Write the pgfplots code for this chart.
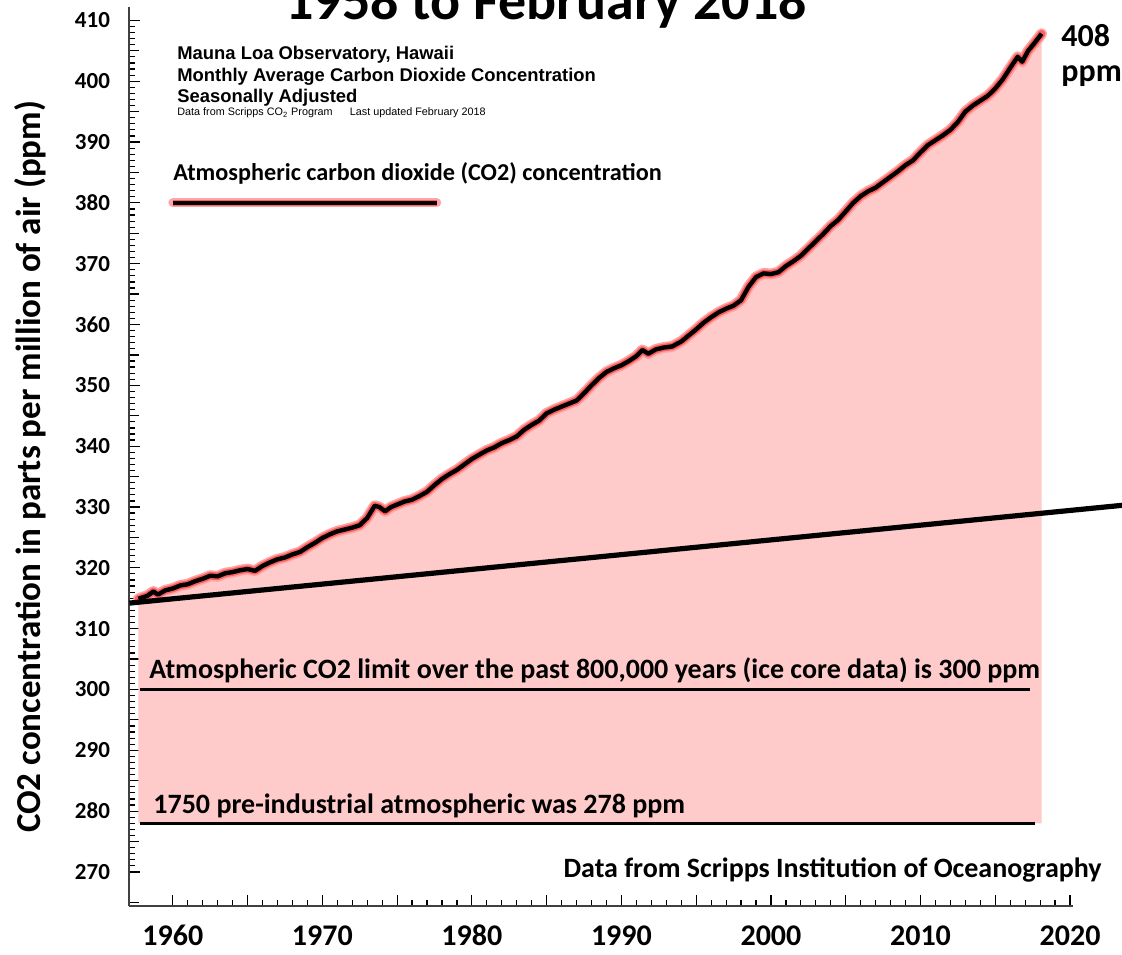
\documentclass[border=0pt]{standalone}
\usepackage{pgfplots}
\pgfplotsset{compat=1.18}
\usepackage{pgfplotstable}
\usepgfplotslibrary{fillbetween}
\usepackage{fontspec}
\setmainfont{Carlito}
\newfontfamily\arialf{Liberation Sans}
\definecolor{pinkfill}{RGB}{255,202,202}
\definecolor{glowA}{RGB}{255,165,165}
\definecolor{glowB}{RGB}{255,95,95}

\pgfplotstableread{
year ppm
1957.7 314.9
1958.3 315.4
1958.7 316.1
1959.0 315.6
1959.5 316.3
1960.0 316.6
1960.5 317.1
1961.0 317.3
1961.5 317.8
1962.0 318.2
1962.5 318.7
1963.0 318.6
1963.5 319.1
1964.0 319.3
1964.5 319.6
1965.0 319.8
1965.5 319.5
1966.0 320.3
1966.5 320.9
1967.0 321.4
1967.5 321.7
1968.0 322.2
1968.5 322.6
1969.0 323.4
1969.5 324.1
1970.0 324.9
1970.5 325.5
1971.0 326.0
1971.5 326.3
1972.0 326.6
1972.5 327.0
1973.0 328.2
1973.5 330.2
1973.8 330.0
1974.2 329.3
1974.6 330.0
1975.0 330.4
1975.5 330.9
1976.0 331.2
1976.5 331.8
1977.0 332.5
1977.5 333.6
1978.0 334.6
1978.5 335.4
1979.0 336.1
1979.5 337.0
1980.0 337.9
1980.5 338.6
1981.0 339.3
1981.5 339.8
1982.0 340.5
1982.5 341.0
1983.0 341.6
1983.5 342.7
1984.0 343.5
1984.5 344.2
1985.0 345.4
1985.5 346.0
1986.0 346.5
1986.5 347.0
1987.0 347.5
1987.5 348.7
1988.0 350.0
1988.5 351.2
1989.0 352.2
1989.5 352.8
1990.0 353.3
1990.5 354.0
1991.0 354.8
1991.4 355.8
1991.8 355.2
1992.3 355.9
1992.8 356.2
1993.4 356.4
1994.0 357.2
1994.5 358.2
1995.0 359.2
1995.5 360.3
1996.0 361.2
1996.5 362.0
1997.0 362.6
1997.5 363.1
1998.0 364.0
1998.5 366.2
1999.0 367.8
1999.5 368.4
2000.0 368.3
2000.5 368.6
2001.0 369.6
2001.5 370.4
2002.0 371.3
2002.5 372.5
2003.0 373.7
2003.5 374.9
2004.0 376.2
2004.5 377.2
2005.0 378.6
2005.5 380.0
2006.0 381.1
2006.5 381.9
2007.0 382.5
2007.5 383.4
2008.0 384.3
2008.5 385.2
2009.0 386.2
2009.5 387.0
2010.0 388.3
2010.5 389.5
2011.0 390.3
2011.5 391.1
2012.0 392.0
2012.5 393.3
2013.0 395.0
2013.5 396.0
2014.0 396.8
2014.5 397.6
2015.0 398.8
2015.5 400.3
2016.0 402.2
2016.5 404.0
2016.8 403.2
2017.2 405.0
2017.6 406.2
2018.1 407.8
}\codata

\begin{document}
\begin{tikzpicture}
\begin{axis}[
  scale only axis, width=472pt, height=449.5pt,
  xmin=1957.07, xmax=2020.2, ymin=264.4, ymax=412.2,
  axis lines=left, axis line style={-, line width=0.6pt, black!75},
  clip=false,
  tick align=inside,
  xtick={1960,1965,...,2020},
  xticklabels={1960,,1970,,1980,,1990,,2000,,2010,,2020},
  minor x tick num=4,
  ytick={270,280,...,410}, minor y tick num=9,
  extra y ticks={265,275,...,405}, extra y tick labels={},
  extra y tick style={major tick length=5pt, tick align=inside},
  major tick length=5.5pt, minor tick length=2.8pt,
  tick style={black, line width=0.6pt},
  /pgf/number format/assume math mode=true,
  xticklabel style={font=\fontsize{15}{15}\selectfont\bfseries, anchor=north, text height=10pt, text depth=0pt, yshift=-6pt},
  yticklabel style={font=\fontsize{11.5}{11.5}\selectfont\bfseries, xshift=-6pt},
]
\addplot[draw=none, name path=co2] table[x=year,y=ppm]{\codata};
\addplot[draw=none, name path=base] coordinates {(1957.7,278) (2018.1,278)};
\addplot[pinkfill] fill between[of=co2 and base];

\addplot[black, line width=1.6pt] coordinates {(1957.8,300) (2017.35,300)};
\addplot[black, line width=1.5pt] coordinates {(1957.8,278) (2017.65,278)};

\addplot[glowA, line width=5.5pt, line join=round, line cap=round] table[x=year,y=ppm]{\codata};
\addplot[glowB, line width=3.8pt, line join=round, line cap=round] table[x=year,y=ppm]{\codata};
\addplot[black, line width=2.2pt, line join=round] table[x=year,y=ppm]{\codata};

\addplot[black, line width=2.6pt] coordinates {(1957.1,314.2) (2024,330.4)};

\addplot[glowA, line width=4.5pt, line cap=round] coordinates {(1960,380) (1977.65,380)};
\addplot[glowB, line width=3.2pt] coordinates {(1960,380) (1977.65,380)};
\addplot[black, line width=2.2pt] coordinates {(1960,380) (1977.65,380)};
\end{axis}

\node[anchor=base west, inner sep=0, font=\fontsize{28}{28}\selectfont\bfseries] at (78pt,443pt) {1958 to February 2018};
\node[anchor=base west, inner sep=0, font=\arialf\bfseries\fontsize{9.2}{10}\selectfont] at (24pt,423pt) {Mauna Loa Observatory, Hawaii};
\node[anchor=base west, inner sep=0, font=\arialf\bfseries\fontsize{9.2}{10}\selectfont] at (24pt,412pt) {Monthly Average Carbon Dioxide Concentration};
\node[anchor=base west, inner sep=0, font=\arialf\bfseries\fontsize{9.2}{10}\selectfont] at (24pt,401.5pt) {Seasonally Adjusted};
\node[anchor=base west, inner sep=0, font=\arialf\fontsize{5.4}{6}\selectfont] at (24pt,395pt) {Data from Scripps CO\textsubscript{2} Program\hspace{1.6em}Last updated February 2018};

\node[anchor=base west, inner sep=0, font=\fontsize{12.1}{13}\selectfont\bfseries] at (22pt,362.5pt) {Atmospheric carbon dioxide (CO2) concentration};
\node[anchor=base west, inner sep=0, font=\fontsize{14}{15}\selectfont\bfseries] at (10pt,114pt) {Atmospheric CO2 limit over the past 800,000 years (ice core data) is 300 ppm};
\node[anchor=base west, inner sep=0, font=\fontsize{14}{15}\selectfont\bfseries] at (12pt,46.5pt) {1750 pre-industrial atmospheric was 278 ppm};
\node[anchor=base east, inner sep=0, font=\fontsize{14}{15}\selectfont\bfseries] at (486.5pt,14.5pt) {Data from Scripps Institution of Oceanography};

\node[anchor=base west, inner sep=0, font=\fontsize{16}{17}\selectfont\bfseries] at (466pt,429.5pt) {408};
\node[anchor=base west, inner sep=0, font=\fontsize{16}{17}\selectfont\bfseries] at (466pt,412pt) {ppm};

\node[rotate=90, inner sep=0, font=\fontsize{17.5}{18}\selectfont\bfseries] at (-49.5pt,219.5pt) {CO2 concentration in parts per million of air (ppm)};

\pgfresetboundingbox
\path[use as bounding box] (-64.5pt,-24pt) rectangle (496.5pt,453pt);
\end{tikzpicture}
\end{document}
